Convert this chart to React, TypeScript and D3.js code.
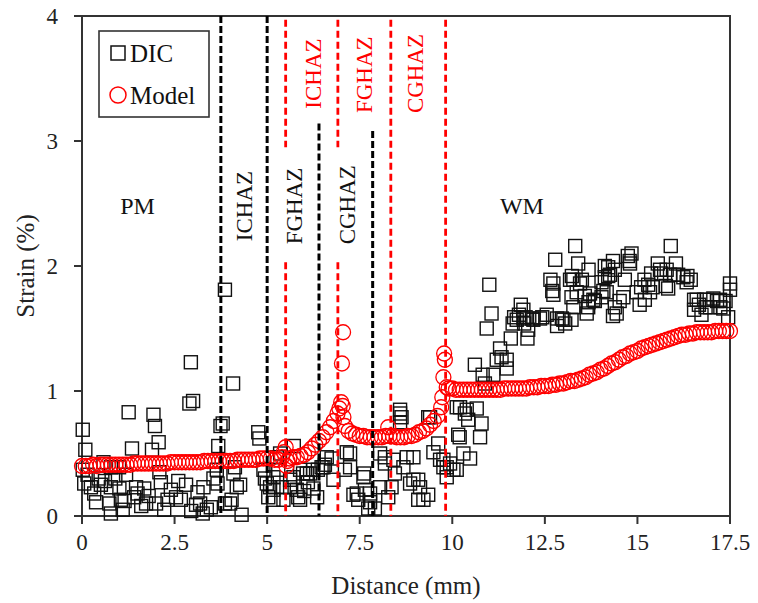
import React from 'react';
import * as d3 from 'd3';

// axis ticks
const xTicks = [0, 2.5, 5, 7.5, 10, 12.5, 15, 17.5];
const yTicks = [0, 1, 2, 3, 4];

const dicPM = [
  [0.02, 0.69], [0.09, 0.53], [0.02, 0.37], [0.15, 0.33], [0.06, 0.26], [0.24, 0.23], [0.51, 0.25],
  [0.33, 0.18], [0.38, 0.11], [0.58, 0.43], [0.45, 0.30], [0.62, 0.28], [0.78, 0.39], [0.78, 0.23],
  [0.74, 0.10], [0.78, 0.02], [0.9, 0.30], [1.0, 0.39], [1.01, 0.22], [1.05, 0.13], [1.10, 0.05],
  [1.15, 0.12], [1.19, 0.33], [1.26, 0.83], [1.35, 0.54], [1.41, 0.15], [1.46, 0.23], [1.50, 0.18],
  [1.6, 0.08], [1.68, 0.22], [1.73, 0.10], [1.8, 0.16], [1.89, 0.53], [1.93, 0.81], [1.97, 0.72],
  [2.0, 0.10], [2.07, 0.59], [2.09, 0.35], [2.13, 0.27], [2.22, 0.05], [2.31, 0.13], [2.4, 0.21],
  [2.54, 0.15], [2.6, 0.28], [2.67, 0.13], [2.81, 0.25], [2.90, 0.90], [3.0, 0.92], [2.94, 1.23],
  [2.95, 0.04], [3.08, 0.09], [3.12, 0.19], [3.19, 0.10], [3.26, 0.02], [3.28, 0.23], [3.37, 0.05],
  [3.48, 0.07], [3.55, 0.30], [3.64, 0.37], [3.66, 0.26], [3.68, 0.56], [3.74, 0.72],
];

const dicHAZ = [
  [3.86, 1.81], [4.08, 1.06], [3.80, 0.74], [4.09, 0.34], [4.13, 0.39], [4.18, 0.23], [4.27, 0.25],
  [4.04, 0.13], [4.0, 0.10], [4.31, 0.01], [3.86, 0.10], [4.76, 0.67], [4.79, 0.62], [4.90, 0.37],
  [4.94, 0.30], [4.99, 0.26], [5.03, 0.15], [5.08, 0.23], [5.17, 0.31], [5.17, 0.21], [5.17, 0.13],
  [5.26, 0.47], [5.30, 0.37], [5.35, 0.50], [5.39, 0.23], [5.44, 0.13], [5.62, 0.23], [5.62, 0.29],
  [5.72, 0.56], [5.71, 0.31], [5.80, 0.21], [5.84, 0.15], [5.89, 0.13], [5.89, 0.37], [5.97, 0.34],
  [6.0, 0.20], [6.07, 0.34], [6.1, 0.27], [6.16, 0.34], [6.24, 0.37], [6.25, 0.22], [6.35, 0.15],
  [6.37, 0.37], [6.47, 0.39], [6.52, 0.39], [6.56, 0.41], [6.61, 0.47], [6.74, 0.46], [6.79, 0.29],
  [7.10, 0.37], [7.15, 0.51], [7.24, 0.50], [7.24, 0.39], [7.33, 0.17], [7.42, 0.18], [7.46, 0.13],
  [7.60, 0.31], [7.62, 0.34], [7.64, 0.21], [7.73, 0.06], [7.78, 0.11], [7.78, 0.18], [7.91, 0.06],
  [8.05, 0.23], [8.05, 0.50], [8.18, 0.47], [8.18, 0.42], [8.27, 0.15], [8.36, 0.23], [8.41, 0.45],
  [8.45, 0.34], [8.59, 0.85], [8.59, 0.82], [8.63, 0.79], [8.59, 0.75], [8.68, 0.39], [8.77, 0.47],
  [8.86, 0.26], [8.95, 0.47], [8.95, 0.29], [9.08, 0.29], [9.08, 0.13], [9.13, 0.23], [9.22, 0.13],
  [9.35, 0.79], [9.40, 0.79], [9.35, 0.17], [9.49, 0.51], [9.62, 0.58], [9.67, 0.45], [9.76, 0.45],
  [9.76, 0.39], [9.85, 0.39], [9.85, 0.31], [9.94, 0.42],
];

const dicWM = [
  [10.03, 0.37], [10.12, 0.37], [10.3, 0.50], [10.2, 0.63], [10.16, 0.65], [10.12, 0.87], [10.21, 0.87],
  [10.39, 0.85], [10.34, 0.82], [10.43, 0.77], [10.48, 0.46], [10.66, 0.86], [10.79, 0.74], [10.75, 0.63],
  [10.61, 1.21], [10.88, 1.06], [10.82, 1.13], [10.93, 1.50], [11.0, 1.85], [11.06, 1.62], [11.11, 1.13],
  [11.2, 1.25], [11.29, 1.34], [11.33, 1.27], [11.47, 1.25], [11.47, 1.18], [11.58, 1.42], [11.63, 1.54],
  [11.67, 1.59], [11.74, 1.57], [11.8, 1.61], [11.85, 1.69], [11.92, 1.65], [11.92, 1.58], [11.94, 1.54],
  [11.98, 1.59], [12.03, 1.42], [12.05, 1.49], [12.16, 1.58], [12.19, 1.57], [12.37, 1.58], [12.43, 1.59],
  [12.55, 1.61], [12.65, 1.89], [12.70, 1.80], [12.73, 1.86], [12.73, 1.77], [12.78, 2.05], [12.83, 1.58],
  [12.83, 1.52], [12.96, 1.58], [13.0, 1.57], [13.05, 1.54], [13.18, 1.89], [13.22, 1.75], [13.23, 1.92],
  [13.32, 2.16], [13.40, 2.02], [13.27, 1.89], [13.45, 1.86], [13.36, 1.79], [13.27, 1.67], [13.22, 1.57],
  [13.5, 1.89], [13.58, 1.76], [13.68, 1.97], [13.68, 1.71], [13.72, 1.78], [13.81, 1.73], [13.67, 1.67],
  [13.63, 1.62], [13.85, 1.72], [14.03, 1.87], [14.08, 1.80], [14.03, 1.75], [14.12, 2.0], [14.12, 1.91],
  [14.17, 1.79], [14.21, 1.92], [14.21, 1.99], [14.26, 1.93], [14.34, 2.04], [14.39, 1.97], [14.34, 1.60],
  [14.39, 1.67], [14.44, 1.62], [14.52, 1.72], [14.62, 1.75], [14.66, 1.89], [14.74, 2.08], [14.79, 2.04],
  [14.84, 2.10], [14.80, 2.02], [14.98, 1.79], [15.06, 1.69], [15.10, 1.83], [15.19, 1.89], [15.20, 1.73],
  [15.29, 1.85], [15.34, 1.79], [15.37, 1.94], [15.41, 1.83], [15.55, 2.02], [15.61, 1.97], [15.64, 1.94],
  [15.77, 1.84], [15.79, 1.97], [15.83, 1.82], [15.88, 1.93], [15.9, 2.16], [15.99, 1.93], [16.04, 2.02],
  [16.10, 1.93], [16.24, 1.91], [16.33, 1.87], [16.35, 1.92], [16.44, 1.89], [16.53, 1.73], [16.53, 1.65],
  [16.60, 1.73], [16.66, 1.69], [16.73, 1.61], [16.80, 1.73], [16.84, 1.67], [16.87, 1.73], [16.96, 1.67],
  [17.05, 1.74], [17.15, 1.72], [17.23, 1.73], [17.24, 1.67], [17.32, 1.66], [17.38, 1.72], [17.45, 1.59],
  [17.5, 1.86], [17.5, 1.81],
];

// model prediction [distance mm, strain %]
const modelPM = [
  [0.0, 0.40], [0.1, 0.40], [0.2, 0.40], [0.3, 0.41], [0.4, 0.40], [0.5, 0.41], [0.6, 0.41], [0.7, 0.41],
  [0.8, 0.41], [0.9, 0.41], [1.0, 0.41], [1.1, 0.41], [1.2, 0.41], [1.3, 0.41], [1.4, 0.42], [1.5, 0.42],
  [1.6, 0.42], [1.7, 0.42], [1.8, 0.42], [1.9, 0.42], [2.0, 0.42], [2.1, 0.42], [2.2, 0.42], [2.3, 0.42],
  [2.4, 0.43], [2.5, 0.43], [2.6, 0.43], [2.7, 0.43], [2.8, 0.43], [2.9, 0.43], [3.0, 0.43], [3.1, 0.43],
  [3.2, 0.43], [3.3, 0.44], [3.4, 0.44], [3.5, 0.44], [3.6, 0.44], [3.7, 0.44],
];

const modelHAZ = [
  [3.8, 0.44], [3.9, 0.44], [4.0, 0.44], [4.1, 0.44], [4.2, 0.45], [4.3, 0.45], [4.4, 0.45], [4.5, 0.45],
  [4.6, 0.45], [4.7, 0.45], [4.8, 0.46], [4.9, 0.46], [5.0, 0.46], [5.1, 0.46], [5.2, 0.45], [5.3, 0.45],
  [5.4, 0.47], [5.45, 0.51], [5.5, 0.55], [5.52, 0.40], [5.55, 0.44], [5.6, 0.46], [5.7, 0.47], [5.8, 0.47],
  [5.9, 0.48], [6.0, 0.49], [6.1, 0.51], [6.2, 0.54], [6.3, 0.57], [6.4, 0.60], [6.5, 0.63], [6.6, 0.67],
  [6.7, 0.71], [6.8, 0.76], [6.9, 0.82], [6.95, 0.86], [7.0, 0.91], [7.02, 1.22], [7.05, 1.47], [7.04, 0.88],
  [7.06, 0.79], [7.1, 0.72], [7.2, 0.68], [7.3, 0.66], [7.4, 0.65], [7.5, 0.64], [7.6, 0.64], [7.7, 0.63],
  [7.8, 0.63], [7.9, 0.63], [8.0, 0.63], [8.1, 0.63], [8.2, 0.64], [8.27, 0.71], [8.3, 0.64], [8.4, 0.64],
  [8.5, 0.63], [8.6, 0.63], [8.7, 0.63], [8.8, 0.64], [8.9, 0.64], [9.0, 0.65], [9.1, 0.67], [9.2, 0.68],
  [9.3, 0.70], [9.4, 0.73], [9.5, 0.76], [9.6, 0.80], [9.7, 0.87], [9.73, 0.95], [9.76, 1.11], [9.78, 1.30],
  [9.8, 1.25], [9.85, 1.03],
];

const modelWM = [
  [9.9, 1.02], [10.0, 1.02], [10.1, 1.01], [10.2, 1.01], [10.3, 1.01], [10.4, 1.01], [10.5, 1.01], [10.6, 1.01],
  [10.7, 1.01], [10.8, 1.01], [10.9, 1.01], [11.0, 1.01], [11.1, 1.01], [11.2, 1.01], [11.3, 1.01], [11.4, 1.02],
  [11.5, 1.02], [11.6, 1.02], [11.7, 1.02], [11.8, 1.02], [11.9, 1.02], [12.0, 1.02], [12.1, 1.03], [12.2, 1.03],
  [12.3, 1.03], [12.4, 1.04], [12.5, 1.04], [12.6, 1.04], [12.7, 1.05], [12.8, 1.05], [12.9, 1.06], [13.0, 1.06],
  [13.1, 1.07], [13.2, 1.08], [13.3, 1.08], [13.4, 1.09], [13.5, 1.10], [13.6, 1.11], [13.7, 1.13], [13.8, 1.14],
  [13.9, 1.15], [14.0, 1.17], [14.1, 1.18], [14.2, 1.20], [14.3, 1.22], [14.4, 1.23], [14.5, 1.25], [14.6, 1.27],
  [14.7, 1.28], [14.8, 1.30], [14.9, 1.31], [15.0, 1.32], [15.1, 1.34], [15.2, 1.35], [15.3, 1.36], [15.4, 1.37],
  [15.5, 1.38], [15.6, 1.39], [15.7, 1.40], [15.8, 1.41], [15.9, 1.42], [16.0, 1.43], [16.1, 1.44], [16.2, 1.45],
  [16.3, 1.45], [16.4, 1.46], [16.5, 1.46], [16.6, 1.47], [16.7, 1.47], [16.8, 1.47], [16.9, 1.47], [17.0, 1.47],
  [17.1, 1.48], [17.2, 1.48], [17.3, 1.48], [17.4, 1.48], [17.5, 1.48],
];

// zone boundaries: x position and the strain spans the dashed line covers
const dicBounds = [
  { x: 3.75, spans: [[4, 0]] },
  { x: 5.0, spans: [[4, 0]] },
  { x: 6.4, spans: [[3.14, 0]] },
  { x: 7.85, spans: [[3.08, 0]] },
];
const modelBounds = [
  { x: 5.5, spans: [[3.97, 2.95], [2.03, 0]] },
  { x: 6.91, spans: [[3.97, 2.95], [2.03, 0]] },
  { x: 8.34, spans: [[3.97, 0]] },
  { x: 9.82, spans: [[3.97, 0]] },
];

const regionLabels = [
  { text: 'PM', x: 1.5, y: 2.48 },
  { text: 'WM', x: 11.88, y: 2.48 },
];
const dicZoneLabels = [
  { text: 'ICHAZ', x: 4.4, y: 2.48 },
  { text: 'FGHAZ', x: 5.73, y: 2.48 },
  { text: 'CGHAZ', x: 7.16, y: 2.49 },
];
const modelZoneLabels = [
  { text: 'ICHAZ', x: 6.24, y: 3.54 },
  { text: 'FGHAZ', x: 7.64, y: 3.53 },
  { text: 'CGHAZ', x: 9.02, y: 3.54 },
];

const W = 758;
const H = 603;
const serif = { fontFamily: "'Liberation Serif', serif" };

export default function App() {
  const x = d3.scaleLinear().domain([0, 17.5]).range([82, 730]);
  const y = d3.scaleLinear().domain([0, 4]).range([516, 16]);
  const sq = 13;
  const dic = [...dicPM, ...dicHAZ, ...dicWM];
  const model = [...modelPM, ...modelHAZ, ...modelWM];

  return (
    <svg width={W} height={H} style={{ position: 'absolute', left: 0, top: 0, background: '#fff', ...serif }}>
      {/* frame */}
      <rect x={x(0)} y={y(4)} width={x(17.5) - x(0)} height={y(0) - y(4)} fill="none" stroke="#333" strokeWidth={2} />

      {/* ticks */}
      {yTicks.map(t => (
        <g key={'y' + t}>
          <line x1={x(0) - 8} x2={x(0)} y1={y(t)} y2={y(t)} stroke="#333" strokeWidth={2} />
          <text x={58} y={y(t)} textAnchor="end" dominantBaseline="central" fontSize={23} fill="#222" style={serif}>{t}</text>
        </g>
      ))}
      {xTicks.map(t => (
        <g key={'x' + t}>
          <line x1={x(t)} x2={x(t)} y1={y(0)} y2={y(0) + 8} stroke="#333" strokeWidth={2} />
          <text x={x(t)} y={550} textAnchor="middle" fontSize={23} fill="#222" style={serif}>{t}</text>
        </g>
      ))}

      {/* DIC squares */}
      {dic.map((d, i) => (
        <rect key={'d' + i} x={x(d[0]) - sq / 2} y={y(d[1]) - sq / 2} width={sq} height={sq}
          fill="none" stroke="#111" strokeWidth={1.4} />
      ))}

      {/* model circles */}
      {model.map((d, i) => (
        <circle key={'m' + i} cx={x(d[0])} cy={y(d[1])} r={7.5} fill="none" stroke="#ff0000" strokeWidth={1.3} />
      ))}

      {/* zone boundaries */}
      {dicBounds.map((b, i) => b.spans.map((s, j) => (
        <line key={'db' + i + j} x1={x(b.x)} x2={x(b.x)} y1={y(s[0])} y2={y(s[1])}
          stroke="#000" strokeWidth={3} strokeDasharray="7,3" />
      )))}
      {modelBounds.map((b, i) => b.spans.map((s, j) => (
        <line key={'mb' + i + j} x1={x(b.x)} x2={x(b.x)} y1={y(s[0])} y2={y(s[1])}
          stroke="#ff0000" strokeWidth={2.8} strokeDasharray="7,4" />
      )))}

      {/* zone labels */}
      {regionLabels.map(l => (
        <text key={l.text} x={x(l.x)} y={y(l.y)} textAnchor="middle" dominantBaseline="central" fontSize={24}
          fill="#111" style={serif}>{l.text}</text>
      ))}
      {dicZoneLabels.map(l => (
        <text key={'dz' + l.text} transform={`translate(${x(l.x)},${y(l.y)}) rotate(-90)`} textAnchor="middle"
          dominantBaseline="central" fontSize={23} fill="#111" style={serif}>{l.text}</text>
      ))}
      {modelZoneLabels.map(l => (
        <text key={'mz' + l.text} transform={`translate(${x(l.x)},${y(l.y)}) rotate(-90)`} textAnchor="middle"
          dominantBaseline="central" fontSize={23} fill="#ff0000" style={serif}>{l.text}</text>
      ))}

      {/* legend */}
      <rect x={99} y={31} width={110} height={86} fill="#fff" stroke="#333" strokeWidth={1.6} />
      <rect x={118 - 7} y={53 - 7} width={14} height={14} fill="none" stroke="#111" strokeWidth={1.5} />
      <text x={130} y={53} dominantBaseline="central" fontSize={25} fill="#111" style={serif}>DIC</text>
      <circle cx={118} cy={95} r={8} fill="none" stroke="#ff0000" strokeWidth={1.5} />
      <text x={130} y={95} dominantBaseline="central" fontSize={25} fill="#111" style={serif}>Model</text>

      {/* axis titles */}
      <text x={(x(0) + x(17.5)) / 2} y={594} textAnchor="middle" fontSize={25} fill="#222" style={serif}>Distance (mm)</text>
      <text transform={`translate(34,${(y(0) + y(4)) / 2}) rotate(-90)`} textAnchor="middle" fontSize={25} fill="#222"
        style={serif}>Strain (%)</text>
    </svg>
  );
}
